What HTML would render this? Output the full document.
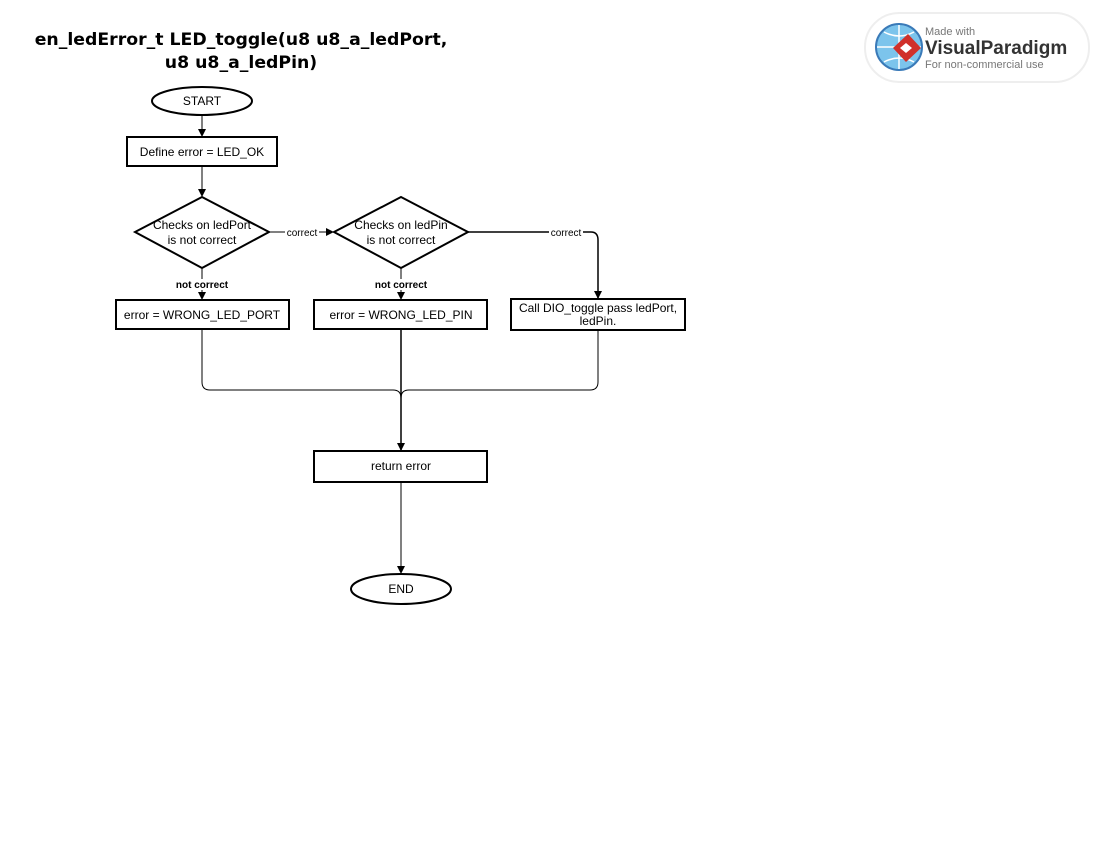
<!DOCTYPE html>
<html><head><meta charset="utf-8"><style>
body{margin:0;width:1100px;height:850px;background:#fff;overflow:hidden;position:relative;font-family:"Liberation Sans",Arial,sans-serif}
svg{position:absolute;left:0;top:0}
</style></head><body>
<svg width="1100" height="850" viewBox="0 0 1100 850" xmlns="http://www.w3.org/2000/svg" font-family="Liberation Sans, Arial, sans-serif">
<defs><marker id="a" markerWidth="8" markerHeight="8" refX="7" refY="4" orient="auto" markerUnits="userSpaceOnUse"><path d="M0,0 L8,4 L0,8 z" fill="#000"/></marker></defs>
<text x="241" y="45" font-size="17.3" font-weight="bold" text-anchor="middle" font-family="DejaVu Sans, sans-serif">en_ledError_t LED_toggle(u8 u8_a_ledPort,</text>
<text x="241" y="68" font-size="17.3" font-weight="bold" text-anchor="middle" font-family="DejaVu Sans, sans-serif">u8 u8_a_ledPin)</text>
<!-- logo -->
<rect x="865" y="13" width="224" height="69" rx="34" fill="#fff" stroke="#eee" stroke-width="2"/>
<circle cx="899" cy="47" r="23" fill="#7cc4ec" stroke="#3a7ab8" stroke-width="2"/>
<path d="M899,25 V69 M877,47 H921 M884,32 Q899,40 914,32 M884,62 Q899,54 914,62" stroke="#fff" stroke-width="1.5" fill="none"/>
<path d="M908,34 L921,48 L906,62 L893,48 z" fill="#d0302a"/>
<path d="M906,43 L912,48 L906,53 L900,48 z" fill="#fff"/>
<text x="925" y="35" font-size="11" fill="#777">Made with</text>
<text x="925" y="54" font-size="19" font-weight="bold" fill="#333">VisualParadigm</text>
<text x="925" y="68" font-size="11" fill="#777">For non-commercial use</text>
<g stroke="#000" stroke-width="2" fill="#fff">
<ellipse cx="202" cy="101" rx="50" ry="14"/>
<rect x="127" y="137" width="150" height="29"/>
<polygon points="202,197 269,232 202,268 135,232"/>
<polygon points="401,197 468,232 401,268 334,232"/>
<rect x="116" y="300" width="173" height="29"/>
<rect x="314" y="300" width="173" height="29"/>
<rect x="511" y="299" width="174" height="31"/>
<rect x="314" y="451" width="173" height="31"/>
<ellipse cx="401" cy="589" rx="50" ry="15"/>
</g>
<g stroke="#000" stroke-width="1" fill="none">
<line x1="202" y1="115" x2="202" y2="136" marker-end="url(#a)"/>
<line x1="202" y1="166" x2="202" y2="196" marker-end="url(#a)"/>
<line x1="269" y1="232" x2="333" y2="232" marker-end="url(#a)"/>
<line x1="202" y1="268" x2="202" y2="299" marker-end="url(#a)"/>
<line x1="401" y1="268" x2="401" y2="299" marker-end="url(#a)"/>
<path d="M468,232 H591 Q598,232 598,240 V298" marker-end="url(#a)" stroke-width="1.5"/>
<path d="M202,329 V382 Q202,390 210,390 H393 Q401,390 401,398"/>
<path d="M598,330 V382 Q598,390 590,390 H409 Q401,390 401,398"/>
<line x1="401" y1="329" x2="401" y2="450" marker-end="url(#a)" stroke-width="1.5"/>
<line x1="401" y1="482" x2="401" y2="573" marker-end="url(#a)"/>
</g>
<g font-size="12" text-anchor="middle">
<text x="202" y="105">START</text>
<text x="202" y="156">Define error = LED_OK</text>
<text x="202" y="229">Checks on ledPort</text>
<text x="202" y="244">is not correct</text>
<text x="401" y="229">Checks on ledPin</text>
<text x="401" y="244">is not correct</text>
<text x="202" y="319">error = WRONG_LED_PORT</text>
<text x="401" y="319">error = WRONG_LED_PIN</text>
<text x="598" y="312">Call DIO_toggle pass ledPort,</text>
<text x="598" y="325">ledPin.</text>
<text x="401" y="470">return error</text>
<text x="401" y="593">END</text>
</g>
<g font-size="10" text-anchor="middle">
<rect x="285" y="227" width="34" height="11" fill="#fff"/><text x="302" y="236">correct</text>
<rect x="549" y="227" width="34" height="11" fill="#fff"/><text x="566" y="236">correct</text>
<rect x="175" y="279" width="55" height="11" fill="#fff"/><text x="202" y="288" font-weight="bold">not correct</text>
<rect x="373" y="279" width="55" height="11" fill="#fff"/><text x="401" y="288" font-weight="bold">not correct</text>
</g>
</svg>
</body></html>
